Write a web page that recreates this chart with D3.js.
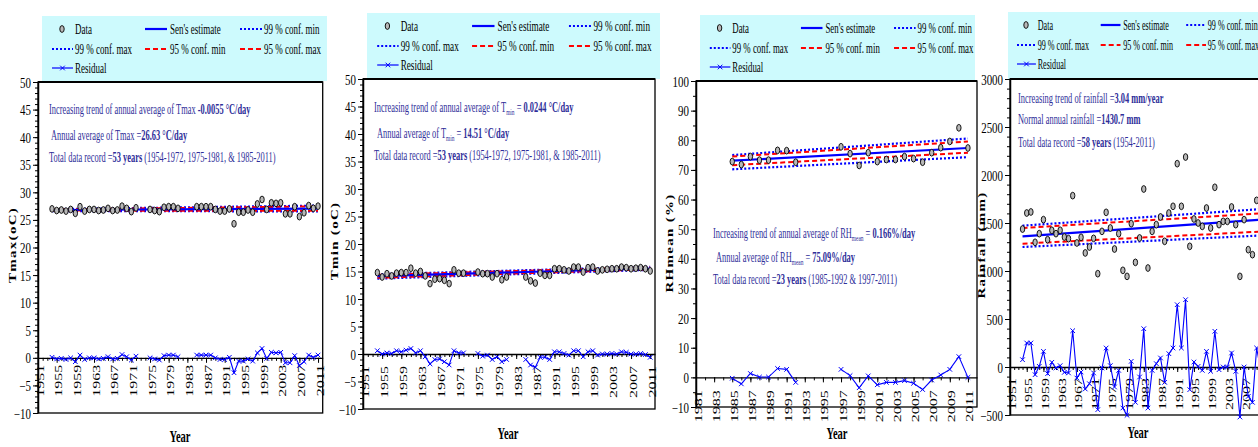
<!DOCTYPE html>
<html>
<head>
<meta charset="utf-8">
<script src="https://cdn.jsdelivr.net/npm/d3@7"></script>
<style>
body{margin:0;background:#fff}
svg{display:block}
</style>
</head>
<body>
<div class="chart"></div>
<script>
// ---------- data ----------
const tempYears = d3.range(1954, 2012);
const rhYears = d3.range(1985, 2012);
const rainYears = d3.range(1954, 2012);

const tmaxValues = [27.0,26.7,26.8,26.6,26.9,26.2,27.4,26.6,26.9,26.9,26.7,26.8,27.1,26.7,26.8,27.5,27.1,26.5,27.2,
  null,null,26.9,26.7,26.5,27.3,27.4,27.4,27.1,null,null,null,
  27.4,27.4,27.4,27.4,26.9,26.6,26.6,27.0,24.3,26.4,26.4,26.8,26.4,27.9,28.7,26.9,28.1,28.0,28.1,26.1,26.1,27.4,25.6,26.3,27.6,27.1,27.5];
const tmaxResid = [0.1,-0.2,-0.1,-0.3,0.0,-0.7,0.5,-0.3,0.0,0.0,-0.2,-0.1,0.2,-0.2,-0.1,0.6,0.2,-0.4,0.3,
  null,null,0.0,-0.2,-0.4,0.4,0.5,0.5,0.2,null,null,null,
  0.5,0.5,0.5,0.5,0.0,-0.3,-0.3,0.1,-2.7,-0.6,-0.6,-0.2,-0.6,0.9,1.7,-0.1,1.0,0.9,1.0,-0.9,-0.9,0.4,-1.4,-0.7,0.5,0.1,0.5];
const tmaxSen = [26.8, 27.05];
const tmax99min = [26.6, 26.55];
const tmax99max = [26.95, 27.6];
const tmax95min = [26.7, 26.65];
const tmax95max = [26.9, 27.45];

const tminValues = [14.8,14.0,14.6,14.2,14.7,14.8,14.8,15.6,14.7,15.0,14.2,12.8,13.6,13.7,13.4,12.8,15.3,14.7,14.7,
  null,null,14.9,14.6,14.6,14.0,14.6,13.5,14.0,null,null,null,
  14.0,13.3,12.9,14.7,14.3,14.3,15.5,15.5,15.3,15.1,15.8,15.8,14.9,15.7,15.8,15.1,15.3,15.4,15.5,15.5,15.8,15.7,15.5,15.6,15.7,15.5,15.1];
const tminResid = [0.6,0.0,0.2,0.1,0.6,0.4,0.7,1.0,0.2,0.6,-0.5,-1.8,-1.0,-0.9,-1.4,-2.0,0.6,0.2,0.2,
  null,null,0.1,-0.4,-0.2,-1.0,-0.5,-1.4,-1.0,null,null,null,
  -1.0,-2.0,-2.4,-0.6,-0.6,-1.0,0.4,0.4,0.1,-0.2,0.6,0.6,-0.5,0.4,0.6,-0.2,0.0,0.0,0.1,0.0,0.4,0.3,0.0,0.0,0.1,-0.1,-0.6];
const tminSen = [14.15, 15.55];
const tmin99min = [13.7, 15.3];
const tmin99max = [14.5, 15.85];
const tmin95min = [13.85, 15.4];
const tmin95max = [14.4, 15.75];

const rhValues = [72.8,71.8,74.5,73.3,73.3,76.6,76.5,72.6,null,null,null,null,
  77.8,75.5,71.5,75.8,72.8,73.5,73.5,74.5,73.8,72.6,75.8,77.5,79.6,84.2,77.4];
const rhResid = [-0.3,-2.2,1.3,0.1,0.1,3.0,2.7,-1.7,null,null,null,null,
  2.7,0.6,-3.5,0.5,-2.5,-1.7,-1.7,-1.1,-2.0,-4.1,-0.9,0.8,2.7,7.0,0.0];
const rhSen = [73.1, 77.4];
const rh99min = [70.2, 74.3];
const rh99max = [75.0, 80.6];
const rh95min = [71.6, 75.8];
const rh95max = [74.5, 79.6];

const rainValues = [1437,1604,1615,1299,1389,1535,1326,1424,1389,1424,
  1354,1337,1785,1292,1351,1188,1250,1340,972,1413,
  1611,1448,1229,1389,1007,944,1493,1090,1344,1854,
  1031,1413,1483,1563,1309,1604,1674,2118,1674,2187,
  1257,1542,1500,1465,1656,1448,1872,1483,1517,1517,
  1667,1483,944,1535,1222,1170,1736,1480];
const rainResid = [76,250,250,-80,7,163,-69,49,-10,14,
  -56,-62,378,-115,-52,-229,-174,-62,-444,-10,
  198,14,-208,-35,-427,-503,59,-368,-104,399,
  -427,-35,35,94,-160,139,198,649,198,701,
  -236,52,7,-35,163,-45,372,-28,0,0,
  146,-45,-521,0,-306,-368,198,-40];
const rainSen = [1360, 1535];
const rain99min = [1250, 1370];
const rain99max = [1472, 1645];
const rain95min = [1285, 1410];
const rain95max = [1448, 1600];

// tick labels
const yearTicks4 = [1951,1955,1959,1963,1967,1971,1975,1979,1983,1987,1991,1995,1999,2003,2007,2011];
const yearTicks2 = [1981,1983,1985,1987,1989,1991,1993,1995,1997,1999,2001,2003,2005,2007,2009,2011];
const tempTicks = [-10,-5,0,5,10,15,20,25,30,35,40,45,50];
const rhTicks = [-10,0,10,20,30,40,50,60,70,80,90,100];
const rainTicks = [-500,0,500,1000,1500,2000,2500,3000];

const legendItems = ["Data","Sen's estimate","99 % conf. min","99 % conf. max","95 % conf. min","95 % conf. max","Residual"];

// ---------- layout ----------
const W = 1258, H = 447;
const FONT = "'Liberation Serif','Times New Roman',serif";
const NAVY = "#2e2e99";
const BLUE = "#0000ff";
const RED = "#ff0000";

const svg = d3.select(".chart").append("svg").attr("width", W).attr("height", H);

const panels = [
  {left:38, right:322.7, top:82, bottom:413, xDomain:[1951,2012], yDomain:[-10,50],
   yTicks:tempTicks, yMinor:1, xTicks:yearTicks4, years:tempYears, values:tmaxValues, resid:tmaxResid,
   trendYears:[1954,2011], lines:[tmax99min,tmax99max,tmax95min,tmax95max,tmaxSen],
   legend:{x:42,y:16,w:285,h:65,s:1}, ylabel:"Tmax(oC)", ylabelX:16, ylabelY:245,
   yearX:180, yearY:442, labelOff:7,
   notes:[
     {x:49,y:114,parts:[["Increasing trend of annual average of Tmax "],["-0.0055 °C/day","b"]]},
     {x:51,y:140,parts:[["Annual average of Tmax ="],["26.63 °C/day","b"]]},
     {x:49,y:162,parts:[["Total data record ="],["53 years","b"],[" (1954-1972, 1975-1981, & 1985-2011)"]]}
   ]},
  {left:363, right:655, top:79, bottom:409, xDomain:[1951,2012], yDomain:[-10,50],
   yTicks:tempTicks, yMinor:1, xTicks:yearTicks4, years:tempYears, values:tminValues, resid:tminResid,
   trendYears:[1954,2011], lines:[tmin99min,tmin99max,tmin95min,tmin95max,tminSen],
   legend:{x:367,y:13,w:293,h:66,s:1.02}, ylabel:"Tmin (oC)", ylabelX:338, ylabelY:241,
   yearX:508, yearY:439, labelOff:12,
   notes:[
     {x:374,y:112,parts:[["Increasing trend of annual average of T"],["min","s"],[" = "],["0.0244 °C/day","b"]]},
     {x:377,y:138,parts:[["Annual average of T"],["min","s"],[" = "],["14.51 °C/day","b"]]},
     {x:374,y:160,parts:[["Total data record ="],["53 years","b"],[" (1954-1972, 1975-1981, & 1985-2011)"]]}
   ]},
  {left:696, right:977, top:81, bottom:407, xDomain:[1981,2012], yDomain:[-10,100],
   yTicks:rhTicks, yMinor:5, xTicks:yearTicks2, years:rhYears, values:rhValues, resid:rhResid,
   trendYears:[1985,2011], lines:[rh99min,rh99max,rh95min,rh95max,rhSen],
   legend:{x:700,y:15,w:275,h:66,s:0.98}, ylabel:"RHmean (%)", ylabelX:673, ylabelY:243,
   yearX:837, yearY:439, labelOff:13,
   notes:[
     {x:713,y:238,parts:[["Increasing trend of annual average of RH"],["mean","s"],[" = "],["0.166%/day","b"]]},
     {x:716,y:262,parts:[["Annual average of RH"],["mean","s"],[" = "],["75.09%/day","b"]]},
     {x:713,y:284,parts:[["Total data record ="],["23 years","b"],[" (1985-1992 & 1997-2011)"]]}
   ]},
  {left:1010, right:1265, top:79, bottom:415, xDomain:[1951,2012], yDomain:[-500,3000],
   yTicks:rainTicks, yMinor:100, xTicks:yearTicks4, years:rainYears, values:rainValues, resid:rainResid,
   trendYears:[1954,2011], lines:[rain99min,rain99max,rain95min,rain95max,rainSen],
   legend:{x:1008,y:12,w:260,h:67,s:0.9}, ylabel:"Rainfall (mm)", ylabelX:985, ylabelY:245,
   yearX:1138, yearY:438, labelOff:11,
   notes:[
     {x:1018,y:103,parts:[["Increasing trend of rainfall ="],["3.04 mm/year","b"]]},
     {x:1018,y:124,parts:[["Normal annual rainfall ="],["1430.7 mm","b"]]},
     {x:1018,y:147,parts:[["Total data record ="],["58 years","b"],[" (1954-2011)"]]}
   ]}
];

// line styles for trend lines: 99 min, 99 max, 95 min, 95 max, sen
const lineStyles = [
  {c:BLUE, w:2.2, d:"2,2"}, {c:BLUE, w:2.2, d:"2,2"},
  {c:RED, w:2, d:"5,3"}, {c:RED, w:2, d:"5,3"},
  {c:BLUE, w:2.2, d:null}
];

function squashText(g, x, y, sx, size, str, opts) {
  opts = opts || {};
  const t = g.append("text")
    .attr("transform", `translate(${x},${y}) scale(${sx},1)`)
    .attr("font-family", FONT)
    .attr("font-size", size)
    .attr("fill", opts.fill || "#000")
    .attr("text-anchor", opts.anchor || "start")
    .attr("font-weight", opts.bold ? "bold" : null)
    .text(str);
  return t;
}

function drawMarker(g, cx, cy) {
  g.append("ellipse").attr("cx", cx).attr("cy", cy).attr("rx", 2.2).attr("ry", 3.4)
    .attr("fill", "#b8b8b8").attr("stroke", "#000").attr("stroke-width", 0.9);
}

function drawCross(g, cx, cy) {
  const s = 2.3;
  g.append("path").attr("d", `M${cx-s},${cy-s}L${cx+s},${cy+s}M${cx-s},${cy+s}L${cx+s},${cy-s}`)
    .attr("stroke", BLUE).attr("stroke-width", 1).attr("fill", "none");
}

panels.forEach(p => {
  const g = svg.append("g");
  const x = d3.scaleLinear().domain(p.xDomain).range([p.left, p.right]);
  const y = d3.scaleLinear().domain(p.yDomain).range([p.bottom, p.top]);

  // legend box
  const L = p.legend, s = L.s;
  const lg = g.append("g");
  lg.append("rect").attr("x", L.x).attr("y", L.y).attr("width", L.w).attr("height", L.h).attr("fill", "#cdfafd");
  const rowY = [L.y + 13, L.y + 33, L.y + 52];
  const cols = [
    {lx0: 10, lx1: 31, tx: 33},
    {lx0: 103, lx1: 125, tx: 128},
    {lx0: 198, lx1: 220, tx: 222}
  ];
  const itemStyle = [null, lineStyles[4], lineStyles[0], lineStyles[1], lineStyles[2], lineStyles[3], "res"];
  legendItems.forEach((name, i) => {
    const c = cols[i % 3], ry = rowY[Math.floor(i / 3)];
    if (i === 0) {
      drawMarker(lg, L.x + 20 * s, ry);
    } else if (itemStyle[i] === "res") {
      lg.append("line").attr("x1", L.x + c.lx0 * s).attr("x2", L.x + c.lx1 * s).attr("y1", ry).attr("y2", ry)
        .attr("stroke", BLUE).attr("stroke-width", 1.2);
      drawCross(lg, L.x + (c.lx0 + c.lx1) / 2 * s, ry);
    } else {
      const st = itemStyle[i];
      lg.append("line").attr("x1", L.x + c.lx0 * s).attr("x2", L.x + c.lx1 * s).attr("y1", ry).attr("y2", ry)
        .attr("stroke", st.c).attr("stroke-width", st.w).attr("stroke-dasharray", st.d);
    }
    squashText(lg, L.x + c.tx * s, ry + 5, 0.6 * s, 15, name);
  });

  // frame
  g.append("rect").attr("x", p.left).attr("y", p.top).attr("width", p.right - p.left).attr("height", p.bottom - p.top)
    .attr("fill", "none").attr("stroke", "#000").attr("stroke-width", 1.3);
  g.append("line").attr("x1", p.left).attr("x2", p.right).attr("y1", p.top).attr("y2", p.top)
    .attr("stroke", "#000").attr("stroke-width", 2);

  // y axis
  const ya = g.append("g").attr("transform", `translate(${p.left},0)`)
    .call(d3.axisLeft(y).tickValues(p.yTicks).tickSize(5).tickSizeOuter(0).tickFormat(d3.format("d")));
  ya.select(".domain").attr("stroke-width", 1.5);
  ya.selectAll(".tick text")
    .attr("x", null).attr("dy", null)
    .attr("transform", "translate(-7,5) scale(0.78,1)")
    .attr("font-family", FONT).attr("font-size", 14).attr("fill", "#000");
  g.append("g").attr("transform", `translate(${p.left},0)`)
    .call(d3.axisLeft(y).tickValues(d3.range(p.yDomain[0], p.yDomain[1] + 0.001, p.yMinor)).tickSize(3).tickFormat(""))
    .select(".domain").remove();

  // x axis on zero line
  const xa = g.append("g").attr("transform", `translate(0,${y(0)})`)
    .call(d3.axisBottom(x).tickValues(p.xTicks).tickSize(5).tickSizeOuter(0).tickFormat(d3.format("d")));
  xa.select(".domain").attr("stroke-width", 1.4);
  xa.selectAll(".tick text")
    .attr("y", null).attr("dy", null)
    .attr("text-anchor", "end")
    .attr("transform", `translate(5,${p.labelOff}) rotate(-90) scale(1,0.62)`)
    .attr("font-family", FONT).attr("font-size", 16).attr("fill", "#000");
  g.append("g").attr("transform", `translate(0,${y(0)})`)
    .call(d3.axisBottom(x).tickValues(d3.range(p.xDomain[0], p.xDomain[1])).tickSize(3).tickFormat(""))
    .select(".domain").remove();

  // trend lines
  const trend = d3.line().x((d, i) => x(p.trendYears[i])).y(d => y(d));
  p.lines.forEach((ln, i) => {
    const st = lineStyles[i];
    g.append("path").attr("d", trend(ln)).attr("fill", "none")
      .attr("stroke", st.c).attr("stroke-width", st.w).attr("stroke-dasharray", st.d);
  });

  // data points
  const pts = p.years.map((yr, i) => ({yr, v: p.values[i], r: p.resid[i]}));
  pts.filter(d => d.v != null).forEach(d => drawMarker(g, x(d.yr), y(d.v)));

  // residual
  const resLine = d3.line().defined(d => d.r != null).x(d => x(d.yr)).y(d => y(d.r));
  g.append("path").attr("d", resLine(pts)).attr("fill", "none").attr("stroke", BLUE).attr("stroke-width", 1.1);
  pts.filter(d => d.r != null).forEach(d => drawCross(g, x(d.yr), y(d.r)));

  // annotations
  p.notes.forEach(n => {
    const t = g.append("text")
      .attr("transform", `translate(${n.x},${n.y}) scale(0.6,1)`)
      .attr("font-family", FONT).attr("font-size", 14).attr("fill", NAVY);
    let shifted = false;
    n.parts.forEach(pt => {
      const ts = t.append("tspan").text(pt[0]);
      if (pt[1] === "b") ts.attr("font-weight", "bold");
      if (pt[1] === "s") { ts.attr("font-size", 9).attr("dy", 3); shifted = true; }
      else if (shifted) { ts.attr("dy", -3); shifted = false; }
    });
  });

  // axis titles
  g.append("text")
    .attr("transform", `translate(${p.ylabelX},${p.ylabelY}) rotate(-90) scale(1,0.7)`)
    .attr("text-anchor", "middle").attr("font-family", FONT).attr("font-size", 15)
    .attr("font-weight", "bold").attr("letter-spacing", 1.3).text(p.ylabel);
  squashText(g, p.yearX, p.yearY, 0.66, 16, "Year", {anchor: "middle", bold: true});
});
</script>
</body>
</html>
